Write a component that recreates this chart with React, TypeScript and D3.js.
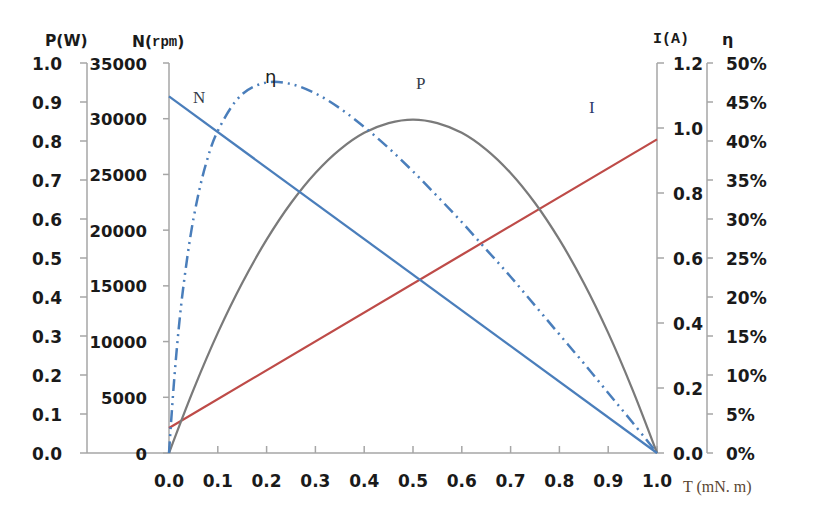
import React from "react";
import * as d3 from "d3";

// ---- data ----
const torque = [0, 0.05, 0.1, 0.15, 0.2, 0.25, 0.3, 0.35, 0.4, 0.45, 0.5, 0.55, 0.6, 0.65, 0.7, 0.75, 0.8, 0.85, 0.9, 0.95, 1.0];
const powerW = [0, 0.162, 0.308, 0.436, 0.547, 0.641, 0.718, 0.778, 0.821, 0.846, 0.855, 0.846, 0.821, 0.778, 0.718, 0.641, 0.547, 0.436, 0.308, 0.162, 0];
const speedT = [0, 1.0];
const speedRpm = [32000, 0];
const currentT = [0, 1.0];
const currentA = [0.077, 0.965];
const effT = [0, 0.01, 0.02, 0.03, 0.05, 0.075, 0.1, 0.15, 0.2, 0.25, 0.3, 0.35, 0.4, 0.45, 0.5, 0.55, 0.6, 0.65, 0.7, 0.75, 0.8, 0.85, 0.9, 0.95, 1.0];
const effPct = [0, 8.9, 16.0, 21.6, 30.0, 36.9, 41.3, 46.0, 47.5, 47.3, 46.1, 44.2, 41.8, 39.1, 36.1, 32.9, 29.6, 26.1, 22.6, 18.9, 15.2, 11.5, 7.7, 3.9, 0];

const xTicks = [0, 0.1, 0.2, 0.3, 0.4, 0.5, 0.6, 0.7, 0.8, 0.9, 1.0];
const pTicks = [0, 0.1, 0.2, 0.3, 0.4, 0.5, 0.6, 0.7, 0.8, 0.9, 1.0];
const nTicks = [0, 5000, 10000, 15000, 20000, 25000, 30000, 35000];
const iTicks = [0, 0.2, 0.4, 0.6, 0.8, 1.0, 1.2];
const etaTicks = [0, 5, 10, 15, 20, 25, 30, 35, 40, 45, 50];

const W = 823;
const H = 507;

export default function App() {
  const top = 63;
  const bottom = 453;
  const x = d3.scaleLinear().domain([0, 1]).range([169, 657]);
  const yP = d3.scaleLinear().domain([0, 1]).range([bottom, top]);
  const yN = d3.scaleLinear().domain([0, 35000]).range([bottom, top]);
  const yI = d3.scaleLinear().domain([0, 1.2]).range([bottom, top]);
  const yE = d3.scaleLinear().domain([0, 50]).range([bottom, top]);

  const pAxisX = 87;
  const nAxisX = 169;
  const iAxisX = 657;
  const eAxisX = 707;
  const axisColor = "#a6a6a6";
  const labelColor = "#1a1a1a";
  const tickFont = "'DejaVu Sans', Verdana, sans-serif";

  const pLine = d3.line<number>().x((_, i) => x(torque[i])).y((d) => yP(d)).curve(d3.curveCatmullRom.alpha(0.5));
  const eLine = d3.line<number>().x((_, i) => x(effT[i])).y((d) => yE(d)).curve(d3.curveCatmullRom.alpha(0.5));
  const nLine = d3.line<number>().x((_, i) => x(speedT[i])).y((d) => yN(d));
  const iLine = d3.line<number>().x((_, i) => x(currentT[i])).y((d) => yI(d));

  return (
    <svg width={W} height={H} style={{ position: "absolute", left: 0, top: 0, background: "#fff" }}>
      {/* x axis */}
      <line x1={pAxisX} x2={iAxisX} y1={bottom} y2={bottom} stroke={axisColor} strokeWidth={1.5} />
      {xTicks.map((t) => (
        <g key={"x" + t}>
          <line x1={x(t)} x2={x(t)} y1={bottom} y2={bottom - 7} stroke={axisColor} strokeWidth={1.5} />
          <text x={x(t)} y={481} textAnchor="middle" dominantBaseline="central" fontFamily={tickFont} fontWeight="bold" fontSize={17} fill={labelColor}>
            {t.toFixed(1)}
          </text>
        </g>
      ))}

      {/* P axis */}
      <line x1={pAxisX} x2={pAxisX} y1={top} y2={bottom} stroke={axisColor} strokeWidth={1.5} />
      {pTicks.map((t) => (
        <g key={"p" + t}>
          <line x1={pAxisX - 7} x2={pAxisX} y1={yP(t)} y2={yP(t)} stroke={axisColor} strokeWidth={1.5} />
          <text x={62} y={yP(t) + 1} textAnchor="end" dominantBaseline="central" fontFamily={tickFont} fontWeight="bold" fontSize={17} fill={labelColor}>
            {t.toFixed(1)}
          </text>
        </g>
      ))}

      {/* N axis */}
      <line x1={nAxisX} x2={nAxisX} y1={top} y2={bottom} stroke={axisColor} strokeWidth={1.5} />
      {nTicks.map((t) => (
        <g key={"n" + t}>
          <line x1={nAxisX - 6} x2={nAxisX} y1={yN(t)} y2={yN(t)} stroke={axisColor} strokeWidth={1.5} />
          <text x={147} y={yN(t) + 1} textAnchor="end" dominantBaseline="central" fontFamily={tickFont} fontWeight="bold" fontSize={16.5} fill={labelColor}>
            {String(t)}
          </text>
        </g>
      ))}

      {/* I axis */}
      <line x1={iAxisX} x2={iAxisX} y1={top} y2={bottom} stroke={axisColor} strokeWidth={1.5} />
      {iTicks.map((t) => (
        <g key={"i" + t}>
          <line x1={iAxisX} x2={iAxisX + 7} y1={yI(t)} y2={yI(t)} stroke={axisColor} strokeWidth={1.5} />
          <text x={703} y={yI(t) + 1} textAnchor="end" dominantBaseline="central" fontFamily={tickFont} fontWeight="bold" fontSize={17} fill={labelColor}>
            {t.toFixed(1)}
          </text>
        </g>
      ))}

      {/* eta axis */}
      <line x1={eAxisX} x2={eAxisX} y1={top} y2={bottom} stroke={axisColor} strokeWidth={1.5} />
      {etaTicks.map((t) => (
        <g key={"e" + t}>
          <line x1={eAxisX} x2={eAxisX + 6} y1={yE(t)} y2={yE(t)} stroke={axisColor} strokeWidth={1.5} />
          <text x={726} y={yE(t) + 1} textAnchor="start" dominantBaseline="central" fontFamily={tickFont} fontWeight="bold" fontSize={17} fill={labelColor}>
            {t + "%"}
          </text>
        </g>
      ))}

      {/* series */}
      <path d={iLine(currentA) || ""} fill="none" stroke="#be4b48" strokeWidth={2.25} />
      <path d={pLine(powerW) || ""} fill="none" stroke="#7a7a7a" strokeWidth={2.25} />
      <path d={nLine(speedRpm) || ""} fill="none" stroke="#4a7ebb" strokeWidth={2.25} />
      <path d={eLine(effPct) || ""} fill="none" stroke="#4a7ebb" strokeWidth={2.5} strokeDasharray="12 5 2 5 2 5" />

      {/* axis titles */}
      <text x={45} y={41} dominantBaseline="central" fontFamily={tickFont} fontWeight="bold" fontSize={15.5} fill={labelColor}>P(W)</text>
      <text x={132} y={42} dominantBaseline="central" fontFamily={tickFont} fontWeight="bold" fontSize={15.5} fill={labelColor}>
        N(<tspan fontFamily="'Liberation Mono', monospace" fontWeight="bold" fontSize={14}>rpm</tspan>)
      </text>
      <text x={653} y={39} dominantBaseline="central" fontFamily="'Liberation Mono', monospace" fontWeight="bold" fontSize={15} fill={labelColor}>I(A)</text>
      <text x={722} y={39} dominantBaseline="central" fontFamily={tickFont} fontWeight="bold" fontSize={16} fill={labelColor}>η</text>

      {/* curve labels */}
      <text x={193} y={97} dominantBaseline="central" fontFamily="'Liberation Serif', serif" fontSize={17} fill="#333a48">N</text>
      <text x={265} y={76} dominantBaseline="central" fontFamily="'DejaVu Sans', sans-serif" fontSize={18} fill="#222">η</text>
      <text x={416} y={83} dominantBaseline="central" fontFamily="'Liberation Serif', serif" fontSize={17} fill="#333a48">P</text>
      <text x={589} y={107} dominantBaseline="central" fontFamily="'Liberation Serif', serif" fontSize={17} fill="#2c3a6c">I</text>
      <text x={683} y={486} dominantBaseline="central" fontFamily="'Liberation Serif', serif" fontSize={16} fill="#5a4632">T (mN. m)</text>
    </svg>
  );
}
